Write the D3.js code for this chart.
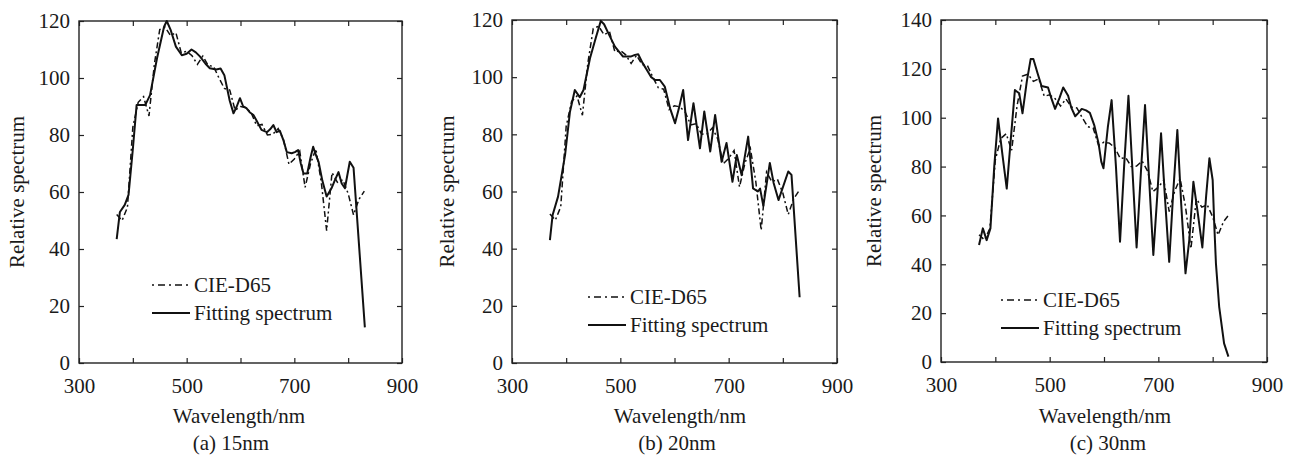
<!DOCTYPE html>
<html>
<head>
<meta charset="utf-8">
<script src="https://cdnjs.cloudflare.com/ajax/libs/d3/7.8.5/d3.min.js"></script>
<style>
  body { margin: 0; background: #fff; }
  svg text { font-family: "Liberation Serif", "Times New Roman", Times, serif !important; fill: #1a1a1a; }
</style>
</head>
<body>
<div id="chart"></div>
<script>
// CIE D65 relative spectral power, 370-830 nm every 10 nm
const d65Wavelengths = d3.range(370, 831, 10);
const d65Values = [52.09, 49.98, 54.65, 82.75, 91.49, 93.43, 86.68, 104.86, 117.01, 117.81,
  114.86, 115.92, 108.81, 109.35, 107.80, 104.79, 107.69, 104.41, 104.05, 100.00,
  96.33, 95.79, 88.69, 90.01, 89.60, 87.70, 83.29, 83.70, 80.03, 80.21,
  82.28, 78.28, 69.72, 71.61, 74.35, 61.60, 69.89, 75.09, 63.59, 46.42,
  66.81, 63.38, 64.30, 59.45, 51.96, 57.44, 60.31];

// fitted spectra
const fit15Wavelengths = [370, 376, 385, 392, 400, 407, 423, 432, 445, 458, 463, 470, 480, 491, 500, 509, 517, 525, 535, 543,
  555, 563, 570, 580, 587, 593, 599, 605, 611, 617, 624, 630, 639, 649, 655, 661, 667, 673, 680, 686,
  695, 701, 707, 712, 717, 724, 730, 735, 740, 745, 752, 760, 769, 775, 782, 788, 794, 803, 810, 831];
const fit15Values = [43.5, 53, 55.5, 59, 75, 90.5, 90.5, 94, 107, 118, 120, 117, 111, 108, 108.5, 110, 109, 107.5, 105, 103.4,
  103, 103.3, 101, 92, 87.6, 90, 92.9, 90, 89.4, 88, 87, 85, 81.8, 81, 82, 83.5, 81, 81.5, 78, 74,
  73.6, 74, 74.7, 70, 66.5, 66.5, 72, 75.9, 73, 70.6, 64, 58.4, 61.3, 64, 67, 63, 61.3, 70.6, 68.5, 12.5];

const fit20Wavelengths = [370, 375, 385, 398, 407, 416, 425, 432, 444, 455, 464, 470, 478, 490, 505, 519, 527, 533, 541, 549,
  557, 564, 573, 582, 592, 601, 608, 616, 625, 635, 647, 655, 666, 675, 687, 696, 707, 715, 724, 736,
  745, 754, 758, 764, 776, 783, 792, 810, 816, 831];
const fit20Values = [43, 51.8, 58.2, 72.8, 87.9, 95.5, 93, 95.5, 106.6, 114, 119.7, 118.5, 115.3, 110.7, 107.2, 107.2, 107.8, 108, 105, 102.5,
  100, 99, 99, 96.7, 89, 83.9, 89, 95.5, 78, 90.9, 75.1, 88, 74, 86.8, 70.4, 77, 63.4, 72.8, 65.7, 79.2,
  61.1, 60, 61, 55, 70, 63, 57, 67, 65.8, 23];

const fit30Wavelengths = [370, 377, 384, 391, 398, 405, 413, 421, 428, 436, 444, 450, 458, 465, 470, 478, 485, 497, 503, 510,
  518, 525, 534, 540, 547, 553, 559, 567, 574, 582, 590, 595, 599, 607, 614, 622, 629.5, 637, 645, 652,
  660, 668, 675.5, 683, 690.8, 698, 705, 712, 720, 727, 735, 742, 750, 757, 764.5, 772, 781, 788, 794, 800,
  803, 806, 812, 821, 829];
const fit30Values = [47.9, 54.7, 49.9, 54.7, 80, 99.7, 85, 71, 90, 111.3, 110, 101.8, 115, 124, 124, 118, 113, 112.4, 108, 103.6,
  108, 112.4, 109, 104, 100.6, 102, 103.6, 103, 102, 97, 89.5, 82, 79.3, 96, 107.2, 80, 49.2, 80, 109, 80,
  46.9, 78, 105.2, 75, 43.8, 68, 93.6, 68, 41, 68, 95, 65, 36.3, 50, 73.8, 62, 46.9, 68, 83.4, 74.5,
  56, 40.4, 22.6, 7.6, 2.2];

const xTicks = d3.range(300, 901, 100);
const captions = ["(a) 15nm", "(b) 20nm", "(c) 30nm"];
const yMaxes = [120, 120, 140];
const legendLabels = ["CIE-D65", "Fitting spectrum"];

const zip = (xs, ys) => xs.map((x, i) => [x, ys[i]]);
const d65 = zip(d65Wavelengths, d65Values);
const fits = [zip(fit15Wavelengths, fit15Values), zip(fit20Wavelengths, fit20Values), zip(fit30Wavelengths, fit30Values)];

// layout of the three panels
const panels = [
  { left: 79, right: 402, top: 21, bottom: 363, yTitleX: 17, xTitleX: 239, capX: 231, legX: 152, legY: 285 },
  { left: 512, right: 837, top: 20, bottom: 363, yTitleX: 447, xTitleX: 680, capX: 677, legX: 588, legY: 297 },
  { left: 941, right: 1267, top: 20, bottom: 362, yTitleX: 874, xTitleX: 1105, capX: 1108, legX: 1001, legY: 300 }
];

const serif = '"Liberation Serif", "Times New Roman", Times, serif';
const fontSize = 21;
const dashDot = "6,3,2,3";

const svg = d3.select("#chart").append("svg")
  .attr("width", 1296)
  .attr("height", 466)
  .attr("font-family", serif);

panels.forEach((p, i) => {
  const x = d3.scaleLinear().domain([300, 900]).range([p.left, p.right]);
  const y = d3.scaleLinear().domain([0, yMaxes[i]]).range([p.bottom, p.top]);
  const yTicks = d3.range(0, yMaxes[i] + 1, 20);
  const g = svg.append("g");

  // axes with inward ticks
  const bottom = g.append("g").attr("transform", `translate(0,${p.bottom})`)
    .call(d3.axisBottom(x).tickValues(xTicks).tickSizeInner(-5).tickSizeOuter(0).tickPadding(15)
      .tickFormat(d => d % 200 === 100 ? d : ""));
  const left = g.append("g").attr("transform", `translate(${p.left},0)`)
    .call(d3.axisLeft(y).tickValues(yTicks).tickSizeInner(-5).tickSizeOuter(0).tickPadding(9));
  const top = g.append("g").attr("transform", `translate(0,${p.top})`)
    .call(d3.axisTop(x).tickValues(xTicks).tickSizeInner(-5).tickSizeOuter(0).tickFormat(""));
  const right = g.append("g").attr("transform", `translate(${p.right},0)`)
    .call(d3.axisRight(y).tickValues(yTicks).tickSizeInner(-5).tickSizeOuter(0).tickFormat(""));

  [bottom, left, top, right].forEach(a => {
    a.attr("font-family", serif).attr("font-size", fontSize);
    a.select(".domain").remove();
    a.selectAll("line").attr("stroke", "#222").attr("stroke-width", 1.2);
    a.selectAll("text").attr("fill", "#1a1a1a");
  });

  g.append("rect")
    .attr("x", p.left).attr("y", p.top)
    .attr("width", p.right - p.left).attr("height", p.bottom - p.top)
    .attr("fill", "none").attr("stroke", "#222").attr("stroke-width", 1.4);

  const line = d3.line().x(d => x(d[0])).y(d => y(d[1]));

  g.append("path").datum(d65)
    .attr("d", line)
    .attr("fill", "none").attr("stroke", "#111").attr("stroke-width", 1.5)
    .attr("stroke-dasharray", dashDot);

  g.append("path").datum(fits[i])
    .attr("d", line)
    .attr("fill", "none").attr("stroke", "#111").attr("stroke-width", 2)
    .attr("stroke-linejoin", "round");

  // titles
  g.append("text")
    .attr("x", p.xTitleX).attr("y", 423)
    .attr("text-anchor", "middle").attr("font-size", fontSize)
    .text("Wavelength/nm");

  g.append("text")
    .attr("transform", `translate(${p.yTitleX + 7},${(p.top + p.bottom) / 2}) rotate(-90)`)
    .attr("text-anchor", "middle").attr("font-size", fontSize)
    .text("Relative spectrum");

  g.append("text")
    .attr("x", p.capX).attr("y", 450)
    .attr("text-anchor", "middle").attr("font-size", fontSize)
    .text(captions[i]);

  // legend
  const leg = g.append("g").attr("transform", `translate(${p.legX},${p.legY})`);
  leg.append("line").attr("x1", 0).attr("x2", 36).attr("y1", 0).attr("y2", 0)
    .attr("stroke", "#111").attr("stroke-width", 1.5).attr("stroke-dasharray", "2,4,7,4");
  leg.append("text").attr("x", 42).attr("y", 7).attr("font-size", fontSize).text(legendLabels[0]);
  leg.append("line").attr("x1", 0).attr("x2", 38).attr("y1", 28).attr("y2", 28)
    .attr("stroke", "#111").attr("stroke-width", 2.2);
  leg.append("text").attr("x", 42).attr("y", 35).attr("font-size", fontSize).text(legendLabels[1]);
});
</script>
</body>
</html>
